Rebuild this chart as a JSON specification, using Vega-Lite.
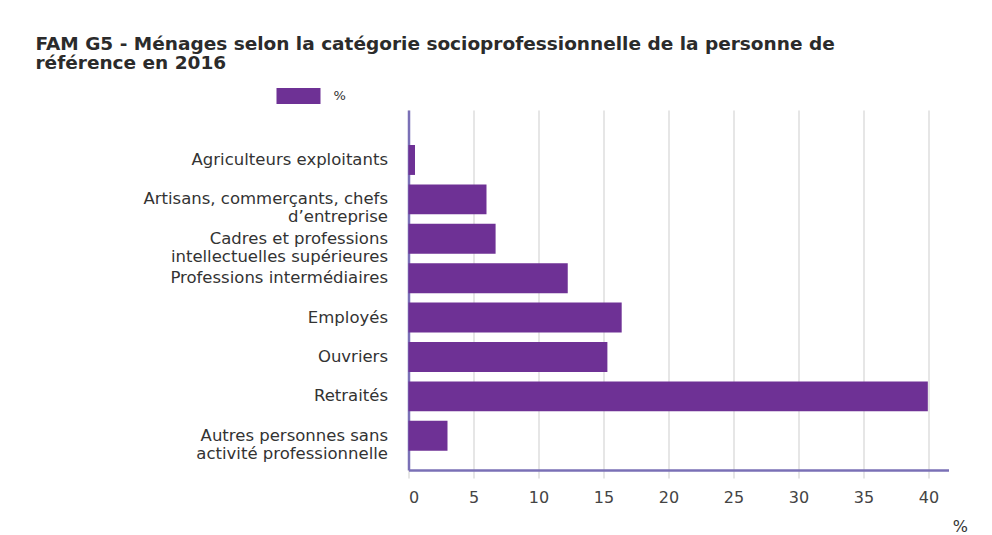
{
  "$schema": "https://vega.github.io/schema/vega-lite/v6.json",
  "width": 540,
  "height": 360,
  "autosize": {"type": "none"},
  "padding": {"left": 408.5, "top": 110, "right": 43.5, "bottom": 65},
  "background": "white",
  "title": {
    "text": ["FAM G5 - Ménages selon la catégorie socioprofessionnelle de la personne de", "référence en 2016"],
    "anchor": "start",
    "frame": "group",
    "dx": -373,
    "offset": 2,
    "font": "DejaVu Sans",
    "fontSize": 18.5,
    "fontWeight": "bold",
    "color": "#2b2b2b",
    "lineHeight": 19
  },
  "data": {
    "values": [
      {"categorie": "Agriculteurs exploitants", "pct": 0.5},
      {"categorie": "Artisans, commerçants, chefs d’entreprise", "pct": 6.0},
      {"categorie": "Cadres et professions intellectuelles supérieures", "pct": 6.7},
      {"categorie": "Professions intermédiaires", "pct": 12.25},
      {"categorie": "Employés", "pct": 16.4},
      {"categorie": "Ouvriers", "pct": 15.3},
      {"categorie": "Retraités", "pct": 39.95},
      {"categorie": "Autres personnes sans activité professionnelle", "pct": 3.0}
    ]
  },
  "mark": {"type": "bar", "opacity": 1},
  "encoding": {
    "y": {
      "field": "categorie",
      "type": "nominal",
      "sort": null,
      "scale": {"paddingInner": 0.24, "paddingOuter": 0.6886, "align": 0.645},
      "axis": {
        "title": null,
        "ticks": false,
        "labelPadding": 21,
        "labelFont": "DejaVu Sans",
        "labelFontSize": 16.5,
        "labelColor": "#333333",
        "labelLineHeight": 18,
        "labelLimit": 400,
        "domainColor": "#7a70b6",
        "domainWidth": 2.5,
        "grid": false,
        "labelExpr": "datum.value == 'Artisans, commerçants, chefs d’entreprise' ? ['Artisans, commerçants, chefs', 'd’entreprise'] : datum.value == 'Cadres et professions intellectuelles supérieures' ? ['Cadres et professions', 'intellectuelles supérieures'] : datum.value == 'Autres personnes sans activité professionnelle' ? ['Autres personnes sans', 'activité professionnelle'] : datum.label"
      }
    },
    "x": {
      "field": "pct",
      "type": "quantitative",
      "scale": {"domain": [0, 41.54], "nice": false, "zero": true},
      "axis": {
        "values": [0, 5, 10, 15, 20, 25, 30, 35, 40],
        "title": "%",
        "titleFont": "DejaVu Sans",
        "titleFontSize": 16,
        "titleFontWeight": "normal",
        "titleColor": "#333333",
        "titleAnchor": "end",
        "titleAlign": "right",
        "titleBaseline": "alphabetic",
        "titleX": 559,
        "titleY": 61,
        "labelFont": "DejaVu Sans",
        "labelFontSize": 16,
        "labelColor": "#444444",
        "labelPadding": 11,
        "tickColor": "#e6e6e6",
        "tickWidth": 2,
        "tickSize": 8,
        "gridColor": "#e6e6e6",
        "gridWidth": 2,
        "domainColor": "#7a70b6",
        "domainWidth": 2.5
      }
    },
    "color": {
      "datum": "%",
      "type": "nominal",
      "scale": {"range": ["#6e3195"]},
      "legend": {
        "title": null,
        "orient": "none",
        "legendX": -132,
        "legendY": -36,
        "symbolType": "M-1,-0.36L1,-0.36L1,0.36L-1,0.36Z",
        "symbolSize": 1936,
        "symbolStrokeWidth": 0,
        "symbolOpacity": 1,
        "labelFont": "DejaVu Sans",
        "labelFontSize": 13,
        "labelColor": "#333333",
        "labelOffset": 13
      }
    }
  },
  "config": {"view": {"stroke": null}}
}
